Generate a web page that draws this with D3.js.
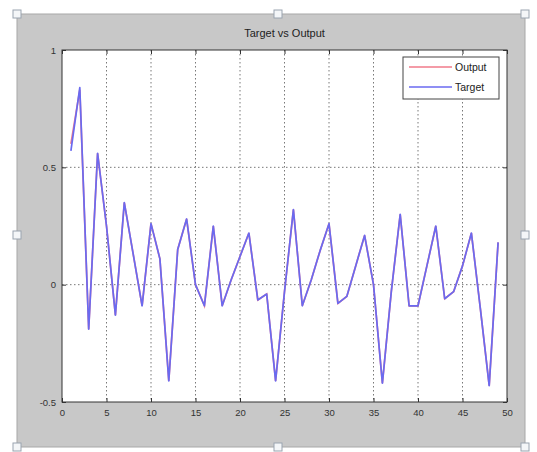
<html>
<head>
<meta charset="utf-8">
<script src="https://cdn.jsdelivr.net/npm/d3@7/dist/d3.min.js"></script>
</head>
<body style="margin:0;background:#fff">
<script>
    const width = 537;
    const height = 452;

    const samples = [1, 2, 3, 4, 5, 6, 7, 8, 9, 10, 11, 12, 13, 14, 15, 16, 17, 18, 19, 20,
        21, 22, 23, 24, 25, 26, 27, 28, 29, 30, 31, 32, 33, 34, 35, 36, 37, 38, 39, 40,
        41, 42, 43, 44, 45, 46, 47, 48, 49];

    const target = [0.57, 0.84, -0.19, 0.56, 0.25, -0.13, 0.35, 0.13, -0.09, 0.26,
        0.11, -0.41, 0.15, 0.28, 0.00, -0.09, 0.25, -0.09, 0.02, 0.12,
        0.22, -0.065, -0.04, -0.41, -0.03, 0.32, -0.09, 0.02, 0.145, 0.26,
        -0.08, -0.05, 0.08, 0.21, 0.00, -0.42, -0.03, 0.30, -0.09, -0.09,
        0.08, 0.25, -0.06, -0.03, 0.08, 0.22, -0.10, -0.43, 0.18];

    const output = [0.60, 0.83, -0.19, 0.56, 0.25, -0.13, 0.35, 0.13, -0.09, 0.26,
        0.11, -0.41, 0.15, 0.28, 0.00, -0.09, 0.25, -0.09, 0.02, 0.12,
        0.22, -0.065, -0.04, -0.41, -0.03, 0.32, -0.09, 0.02, 0.145, 0.26,
        -0.08, -0.05, 0.08, 0.21, 0.00, -0.42, -0.03, 0.30, -0.09, -0.09,
        0.08, 0.25, -0.06, -0.03, 0.08, 0.22, -0.10, -0.43, 0.18];

    const xTicks = [0, 5, 10, 15, 20, 25, 30, 35, 40, 45, 50];
    const yTicks = [-0.5, 0, 0.5, 1];

    const plot = {left: 62, right: 507, top: 50, bottom: 402};

    const svg = d3.select("body").append("svg")
        .attr("width", width)
        .attr("height", height)
        .style("display", "block");

    // figure window
    svg.append("rect")
        .attr("x", 17).attr("y", 14)
        .attr("width", 508).attr("height", 433)
        .attr("fill", "#c8c8c8")
        .attr("stroke", "#a8a8a8");

    const x = d3.scaleLinear().domain([0, 50]).range([plot.left, plot.right]);
    const y = d3.scaleLinear().domain([-0.5, 1]).range([plot.bottom, plot.top]);

    svg.append("rect")
        .attr("x", plot.left).attr("y", plot.top)
        .attr("width", plot.right - plot.left).attr("height", plot.bottom - plot.top)
        .attr("fill", "#fff");

    // grid
    const grid = svg.append("g")
        .attr("stroke", "#555")
        .attr("stroke-width", 0.8)
        .attr("stroke-dasharray", "1.5,2.5");

    grid.selectAll("line.vx")
        .data(xTicks.slice(1, -1))
        .enter().append("line")
        .attr("x1", d => x(d)).attr("x2", d => x(d))
        .attr("y1", plot.top).attr("y2", plot.bottom);

    grid.selectAll("line.hy")
        .data(yTicks.slice(1, -1))
        .enter().append("line")
        .attr("y1", d => y(d)).attr("y2", d => y(d))
        .attr("x1", plot.left).attr("x2", plot.right);

    const tickFont = (g) => {
        g.selectAll("text")
            .attr("font-family", "Liberation Sans, Arial, sans-serif")
            .attr("font-size", 9.5)
            .attr("fill", "#333");
        g.select(".domain").remove();
        g.selectAll(".tick line").attr("stroke", "#333");
    };

    svg.append("g")
        .attr("transform", `translate(0,${plot.bottom})`)
        .call(d3.axisBottom(x).tickValues(xTicks).tickSize(-4).tickPadding(7))
        .call(tickFont);

    svg.append("g")
        .attr("transform", `translate(0,${plot.top})`)
        .call(d3.axisTop(x).tickValues(xTicks).tickSize(-4).tickFormat(""))
        .call(tickFont);

    svg.append("g")
        .attr("transform", `translate(${plot.left},0)`)
        .call(d3.axisLeft(y).tickValues(yTicks).tickSize(-4).tickPadding(6).tickFormat(d => String(d)))
        .call(tickFont);

    svg.append("g")
        .attr("transform", `translate(${plot.right},0)`)
        .call(d3.axisRight(y).tickValues(yTicks).tickSize(-4).tickFormat(""))
        .call(tickFont);

    svg.append("rect")
        .attr("x", plot.left).attr("y", plot.top)
        .attr("width", plot.right - plot.left).attr("height", plot.bottom - plot.top)
        .attr("fill", "none")
        .attr("stroke", "#333");

    // series
    const line = (vals) => d3.line()
        .x((d, i) => x(samples[i]))
        .y(d => y(d))(vals);

    svg.append("path")
        .attr("d", line(output))
        .attr("fill", "none")
        .attr("stroke", "#f07a8a")
        .attr("stroke-width", 1.7);

    svg.append("path")
        .attr("d", line(target))
        .attr("fill", "none")
        .attr("stroke", "#6a6af0")
        .attr("stroke-width", 1.7)
        .attr("stroke-linejoin", "round");

    // title
    svg.append("text")
        .attr("x", (plot.left + plot.right) / 2)
        .attr("y", 37)
        .attr("text-anchor", "middle")
        .attr("font-family", "Liberation Sans, Arial, sans-serif")
        .attr("font-size", 11)
        .attr("fill", "#222")
        .text("Target vs Output");

    // legend
    const legend = svg.append("g");
    legend.append("rect")
        .attr("x", 403).attr("y", 57)
        .attr("width", 96).attr("height", 42)
        .attr("fill", "#fff")
        .attr("stroke", "#444");

    const legendItems = [
        {name: "Output", color: "#f07a8a"},
        {name: "Target", color: "#6a6af0"}
    ];
    legend.selectAll("g.item")
        .data(legendItems)
        .enter().append("g")
        .each(function (d, i) {
            const g = d3.select(this);
            const ly = 67 + i * 20;
            g.append("line")
                .attr("x1", 409).attr("x2", 452)
                .attr("y1", ly).attr("y2", ly)
                .attr("stroke", d.color)
                .attr("stroke-width", 1.7);
            g.append("text")
                .attr("x", 455).attr("y", ly + 4)
                .attr("font-family", "Liberation Sans, Arial, sans-serif")
                .attr("font-size", 10.5)
                .attr("fill", "#222")
                .text(d.name);
        });

    // selection handles of the figure
    const handles = [[17, 14], [278, 14], [525, 14], [17, 235], [525, 235], [17, 447], [278, 447], [525, 447]];
    svg.selectAll("rect.handle")
        .data(handles)
        .enter().append("rect")
        .attr("x", d => d[0] - 4).attr("y", d => d[1] - 4)
        .attr("width", 8).attr("height", 8)
        .attr("fill", "#f4f6f8")
        .attr("stroke", "#9aa4b0");
</script>
</body>
</html>
